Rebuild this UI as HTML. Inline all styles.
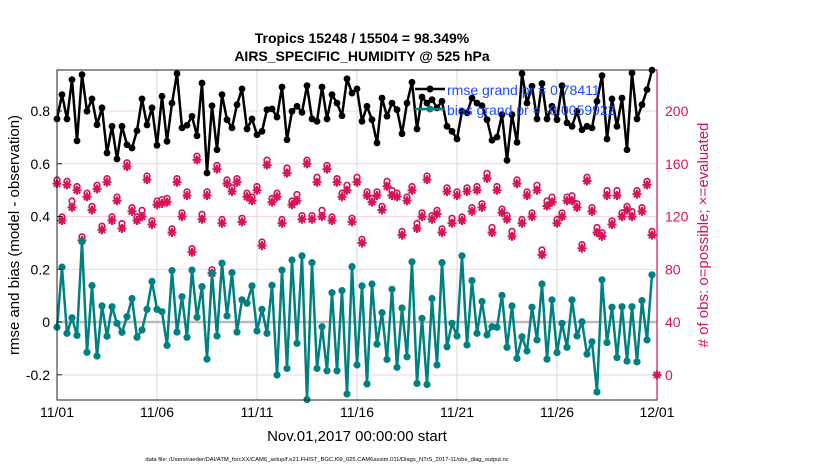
<!DOCTYPE html>
<html><head><meta charset="utf-8">
<style>
html,body{margin:0;padding:0;background:#fff;}
svg{display:block;font-family:"Liberation Sans",Arial,sans-serif;}
</style></head>
<body>
<svg id="chart" width="830" height="470" viewBox="0 0 830 470" xmlns="http://www.w3.org/2000/svg">
<rect x="0" y="0" width="830" height="470" fill="#fff"/>
<g id="grid"></g>
<g id="series"></g>
<rect x="57" y="70" width="600" height="330" fill="none" stroke="#222" stroke-width="1"/>
<line x1="657" y1="70" x2="657" y2="400" stroke="#d6145a" stroke-width="1.2"/>
<g id="axes"></g>
<text x="362" y="43" text-anchor="middle" font-size="14" font-weight="bold">Tropics 15248 / 15504 = 98.349%</text>
<text x="362" y="61" text-anchor="middle" font-size="14" font-weight="bold">AIRS_SPECIFIC_HUMIDITY @ 525 hPa</text>
<text transform="translate(19,235) rotate(-90)" text-anchor="middle" font-size="15">rmse and bias (model - observation)</text>
<text transform="translate(708,235) rotate(-90)" text-anchor="middle" font-size="15" fill="#d6145a"># of obs: o=possible; ×=evaluated</text>
<text x="357" y="441" text-anchor="middle" font-size="15">Nov.01,2017 00:00:00 start</text>
<text x="327" y="461" text-anchor="middle" font-size="5.8">data file: /Users/raeder/DAI/ATM_forcXX/CAM6_setup/f.e21.FHIST_BGC.f09_025.CAM6assim.011/Diags_NTrS_2017-11/obs_diag_output.nc</text>
<g id="legend">
  <g>
    <line x1="415" y1="89" x2="445" y2="89" stroke="#000" stroke-width="2.5"/>
    <circle cx="430" cy="89" r="3.5" fill="#000"/>
    <text x="447" y="95" font-size="14" fill="#1a4cff">rmse grand pr = 0.78411</text>
  </g>
  <g>
    <line x1="415" y1="109" x2="445" y2="109" stroke="#008080" stroke-width="2.5"/>
    <circle cx="430" cy="109" r="3.5" fill="#008080"/>
    <text x="447" y="115" font-size="14" fill="#1a4cff">bias grand pr = -0.0059922</text>
  </g>
</g>
</svg>
<script>
const xTickLabels = ["11/01","11/06","11/11","11/16","11/21","11/26","12/01"];
const xTickDays = [0,5,10,15,20,25,30];
const leftTicks = [-0.2,0,0.2,0.4,0.6,0.8];
const rightTicks = [0,40,80,120,160,200];
const rmse = [0.770,0.862,0.770,0.919,0.687,0.938,0.799,0.846,0.748,0.812,0.641,0.742,0.618,0.742,0.672,0.660,0.725,0.846,0.747,0.812,0.670,0.856,0.685,0.830,0.942,0.736,0.746,0.780,0.706,0.906,0.565,
0.820,0.653,0.862,0.767,0.736,0.824,0.884,0.732,0.770,0.710,0.723,0.805,0.808,0.777,0.891,0.691,0.799,0.818,0.795,0.896,0.770,0.761,0.891,0.770,0.862,0.830,0.782,0.922,0.868,
0.884,0.761,0.818,0.767,0.679,0.849,0.780,0.830,0.805,0.714,0.830,0.909,0.732,0.853,0.830,0.843,0.812,0.837,0.742,0.723,0.694,0.799,0.793,0.849,0.830,0.820,0.767,0.689,0.701,0.786,0.613,
0.786,0.681,0.942,0.830,0.894,0.770,0.904,0.770,0.818,0.767,0.896,0.755,0.742,0.799,0.729,0.742,0.736,0.837,0.934,0.694,0.846,0.742,0.849,0.653,0.944,0.770,0.824,0.881,0.955];
const bias = [-0.020,0.208,-0.043,0.016,-0.051,0.305,-0.115,0.138,-0.129,0.061,-0.054,0.058,-0.005,-0.039,0.020,0.089,-0.058,-0.030,0.048,0.154,0.048,0.039,-0.089,0.195,-0.038,0.096,-0.058,0.197,0.018,0.134,-0.141,
0.185,-0.053,0.223,0.023,0.187,-0.038,0.084,0.071,0.137,-0.034,0.048,-0.043,0.139,-0.201,0.197,-0.176,0.235,-0.081,0.251,-0.294,0.225,-0.176,-0.018,-0.185,0.111,-0.185,0.119,-0.273,0.210,
-0.163,0.137,-0.235,0.144,-0.084,0.035,-0.142,0.124,-0.172,0.053,-0.132,0.228,-0.233,0.014,-0.237,0.089,-0.163,0.225,-0.094,-0.005,-0.053,0.251,-0.087,0.157,-0.043,0.078,-0.049,-0.018,-0.020,0.101,-0.096,
0.061,-0.138,-0.056,-0.110,0.056,-0.068,0.144,-0.141,0.084,-0.116,-0.005,-0.096,0.084,-0.053,0.001,-0.122,-0.075,-0.265,0.160,-0.078,0.056,-0.135,0.058,-0.148,0.058,-0.151,0.081,-0.068,0.179];
const nEvaluated = [145,117,144,127,140,102,135,125,141,110,146,117,132,111,158,124,117,120,148,114,129,130,131,108,146,120,136,93,163,118,136,
77,156,115,145,139,146,116,135,132,140,98,159,131,135,115,153,129,132,118,160,118,146,120,156,117,146,135,140,116,
146,100,136,131,136,125,143,136,135,106,132,140,111,120,148,118,122,108,139,115,136,117,139,124,140,127,149,108,140,123,118,
105,145,115,136,120,140,91,128,131,115,120,132,132,127,96,147,124,108,105,136,114,136,120,125,120,137,124,144,106,0];
const nPossible = [147,119,146,131,142,104,137,127,143,112,148,119,134,114,160,126,119,124,150,116,131,132,133,110,148,122,138,95,165,121,138,
79,158,117,147,141,148,118,137,134,142,100,162,133,137,117,156,131,136,120,162,120,149,124,158,119,148,137,143,118,
149,102,138,133,138,127,146,139,137,108,134,142,114,122,150,120,124,110,141,118,138,119,141,126,142,129,152,111,142,125,120,
108,147,117,138,122,143,94,131,134,117,122,134,135,129,98,149,126,111,107,139,116,139,122,127,123,139,126,146,108,0];

const NS="http://www.w3.org/2000/svg";
function xDay(d){return 57 + d*20;}
function xIdx(i){return xDay(i*0.25);}
function yL(v){return 322 - v*263.75;}
function yR(c){return 375 - c*1.32;}
function mk(tag, attrs, parent){const e=document.createElementNS(NS,tag);for(const k in attrs)e.setAttribute(k,attrs[k]);parent.appendChild(e);return e;}
const grid=document.getElementById('grid'), series=document.getElementById('series'), axes=document.getElementById('axes');

rightTicks.forEach(function(c){
  const l=mk('line',{x1:57,x2:657,y1:yR(c),y2:yR(c),stroke:'#f2d3df','stroke-width':1},grid);
  
  
});
xTickDays.forEach(function(d){
  const l=mk('line',{x1:xDay(d),x2:xDay(d),y1:70,y2:400,stroke:'#d8d8d8','stroke-width':1},grid);
  
  
});
const z=mk('line',{x1:57,x2:657,y1:yL(0),y2:yL(0),stroke:'#bbb','stroke-width':2.5},grid);



nEvaluated.forEach(function(c,i){
  const g=mk('g',{stroke:'#d6145a','stroke-width':2,fill:'none'},series);
  
  
  const x=xIdx(i), y=yR(c);
  mk('path',{d:'M'+(x-4.5)+' '+y+'h9M'+x+' '+(y-4.5)+'v9M'+(x-3.2)+' '+(y-3.2)+'l6.4 6.4M'+(x+3.2)+' '+(y-3.2)+'l-6.4 6.4'},g);
  if(nPossible[i]>0){ mk('circle',{cx:x,cy:yR(nPossible[i])-1,r:2.8,'stroke-width':1.7},g); }
});

function drawLine(vals,color,name,r){
  const pts=vals.map(function(v,i){return xIdx(i)+','+yL(v);}).join(' ');
  const pl=mk('polyline',{points:pts,fill:'none',stroke:color,'stroke-width':2.5,'stroke-linejoin':'round'},series);
  
  
  vals.forEach(function(v,i){
    const c=mk('circle',{cx:xIdx(i),cy:yL(v),r:r,fill:color},series);
    
    
  });
}
drawLine(bias,'#008080','bias',3.6);
drawLine(rmse,'#000','rmse',3.4);

leftTicks.forEach(function(v){
  const t=mk('text',{x:50,y:yL(v)+5,'text-anchor':'end','font-size':14},axes);
  t.textContent=(v===0?'0':String(v));
  
  
  const tk=mk('line',{x1:57,x2:62,y1:yL(v),y2:yL(v),stroke:'#222'},axes);
  
  
});
rightTicks.forEach(function(c){
  const t=mk('text',{x:665,y:yR(c)+5,'font-size':14,fill:'#d6145a'},axes);
  t.textContent=String(c);
  
  
});
xTickLabels.forEach(function(lab,i){
  const t=mk('text',{x:xDay(xTickDays[i]),y:417,'text-anchor':'middle','font-size':14},axes);
  t.textContent=lab;
  
  
});
</script>
</body></html>
